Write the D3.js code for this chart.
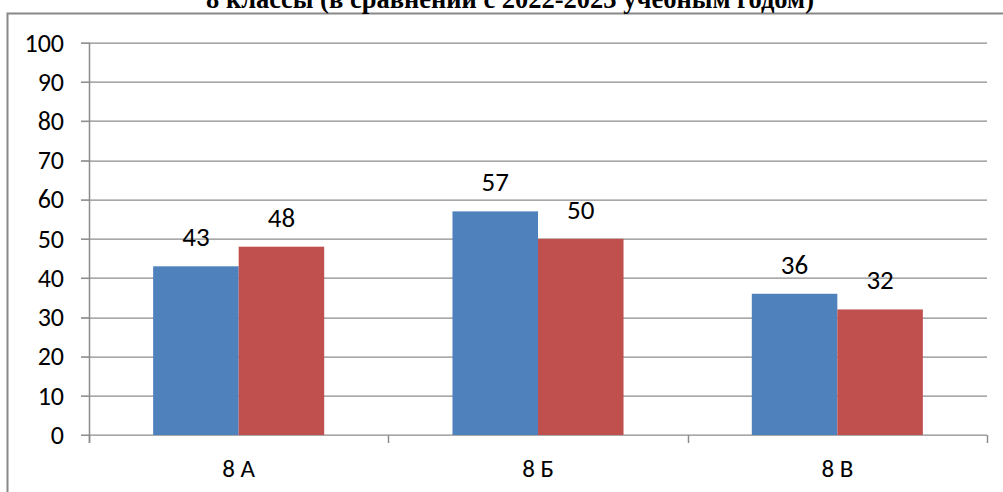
<!DOCTYPE html>
<html>
<head>
<meta charset="utf-8">
<script src="https://cdn.jsdelivr.net/npm/d3@7"></script>
<style>
  body { margin: 0; background: #fff; }
  svg { display: block; }
</style>
</head>
<body>
<svg id="chart"></svg>
<script>
const categories = ["8 А", "8 Б", "8 В"];
const seriesNames = ["2022-2023", "2023-2024"];
const series2022 = [43, 57, 36];
const series2023 = [48, 50, 32];
const yTicks = [0, 10, 20, 30, 40, 50, 60, 70, 80, 90, 100];
const colors = ["#4F81BD", "#C0504D"];

const width = 1003, height = 492;
const margin = { top: 42.7, left: 89, bottom: 57, right: 16 };
const iwidth = width - margin.left - margin.right;
const iheight = height - margin.top - margin.bottom;
const font = "Carlito, 'Open Sans', sans-serif";

const svg = d3.select("#chart").attr("width", width).attr("height", height);

// outer frame (cut at right and bottom)
svg.append("path")
  .attr("d", `M7.5,${height + 2}V13.5H${width + 2}`)
  .attr("fill", "none")
  .attr("stroke", "#888")
  .attr("stroke-width", 2);

svg.append("text")
  .attr("x", 510)
  .attr("y", 8)
  .attr("text-anchor", "middle")
  .attr("font-family", "'Liberation Serif', 'Times New Roman', serif")
  .attr("font-weight", "bold")
  .attr("font-size", 26.5)
  .text("8 классы (в сравнении с 2022-2023 учебным годом)");

const g = svg.append("g").attr("transform", `translate(${margin.left},${margin.top})`);

const y = d3.scaleLinear().domain([0, 100]).range([iheight, 0]);
const x = d3.scaleBand().domain(categories).range([0, iwidth]);
const x1 = d3.scaleBand().domain(seriesNames).range([0, x.bandwidth()]).paddingOuter(0.75).paddingInner(0);

// gridlines
g.append("g")
  .selectAll("line")
  .data(yTicks)
  .join("line")
  .attr("x1", -8).attr("x2", iwidth)
  .attr("y1", d => Math.round(y(d)) + 0.5).attr("y2", d => Math.round(y(d)) + 0.5)
  .attr("stroke", "#8c8c8c").attr("stroke-width", 1.2);

const data = categories.map((c, i) => ({ cat: c, values: [series2022[i], series2023[i]] }));

const groups = g.selectAll(".grp").data(data).join("g")
  .attr("class", "grp")
  .attr("transform", d => `translate(${x(d.cat)},0)`);

groups.selectAll("rect")
  .data(d => d.values.map((v, i) => ({ name: seriesNames[i], v, i })))
  .join("rect")
  .attr("x", d => x1(d.name))
  .attr("width", x1.bandwidth())
  .attr("y", d => y(d.v))
  .attr("height", d => iheight - y(d.v))
  .attr("fill", d => colors[d.i]);

groups.selectAll("text.val")
  .data(d => d.values.map((v, i) => ({ name: seriesNames[i], v, i })))
  .join("text")
  .attr("class", "val")
  .attr("x", d => x1(d.name) + x1.bandwidth() / 2)
  .attr("y", d => y(d.v) - 20)
  .attr("text-anchor", "middle")
  .attr("font-family", font)
  .attr("font-size", 27)
  .text(d => d.v);

// y axis
const yAxis = g.append("g")
  .call(d3.axisLeft(y).tickValues(yTicks).tickSize(8).tickSizeOuter(0).tickPadding(17));
yAxis.select(".domain").attr("d", `M0.5,0V${iheight + 8}`).attr("stroke", "#8c8c8c").attr("stroke-width", 1.5);
yAxis.selectAll(".tick line").attr("stroke", "#8c8c8c");
yAxis.selectAll(".tick text")
  .attr("fill", "#000")
  .attr("font-family", font)
  .attr("font-size", 26);

// x axis
const xAxis = g.append("g")
  .attr("transform", `translate(0,${iheight})`)
  .call(d3.axisBottom(x).tickSize(0));
xAxis.select(".domain").remove();
xAxis.selectAll(".tick text")
  .attr("y", 42)
  .attr("dy", 0)
  .attr("fill", "#000")
  .attr("font-family", font)
  .attr("font-size", 25);
g.append("g")
  .selectAll("line")
  .data(categories.map(c => x(c)).concat([iwidth]))
  .join("line")
  .attr("x1", d => Math.round(d) + 0.5).attr("x2", d => Math.round(d) + 0.5)
  .attr("y1", iheight).attr("y2", iheight + 8)
  .attr("stroke", "#8c8c8c").attr("stroke-width", 1.5);
</script>
</body>
</html>
